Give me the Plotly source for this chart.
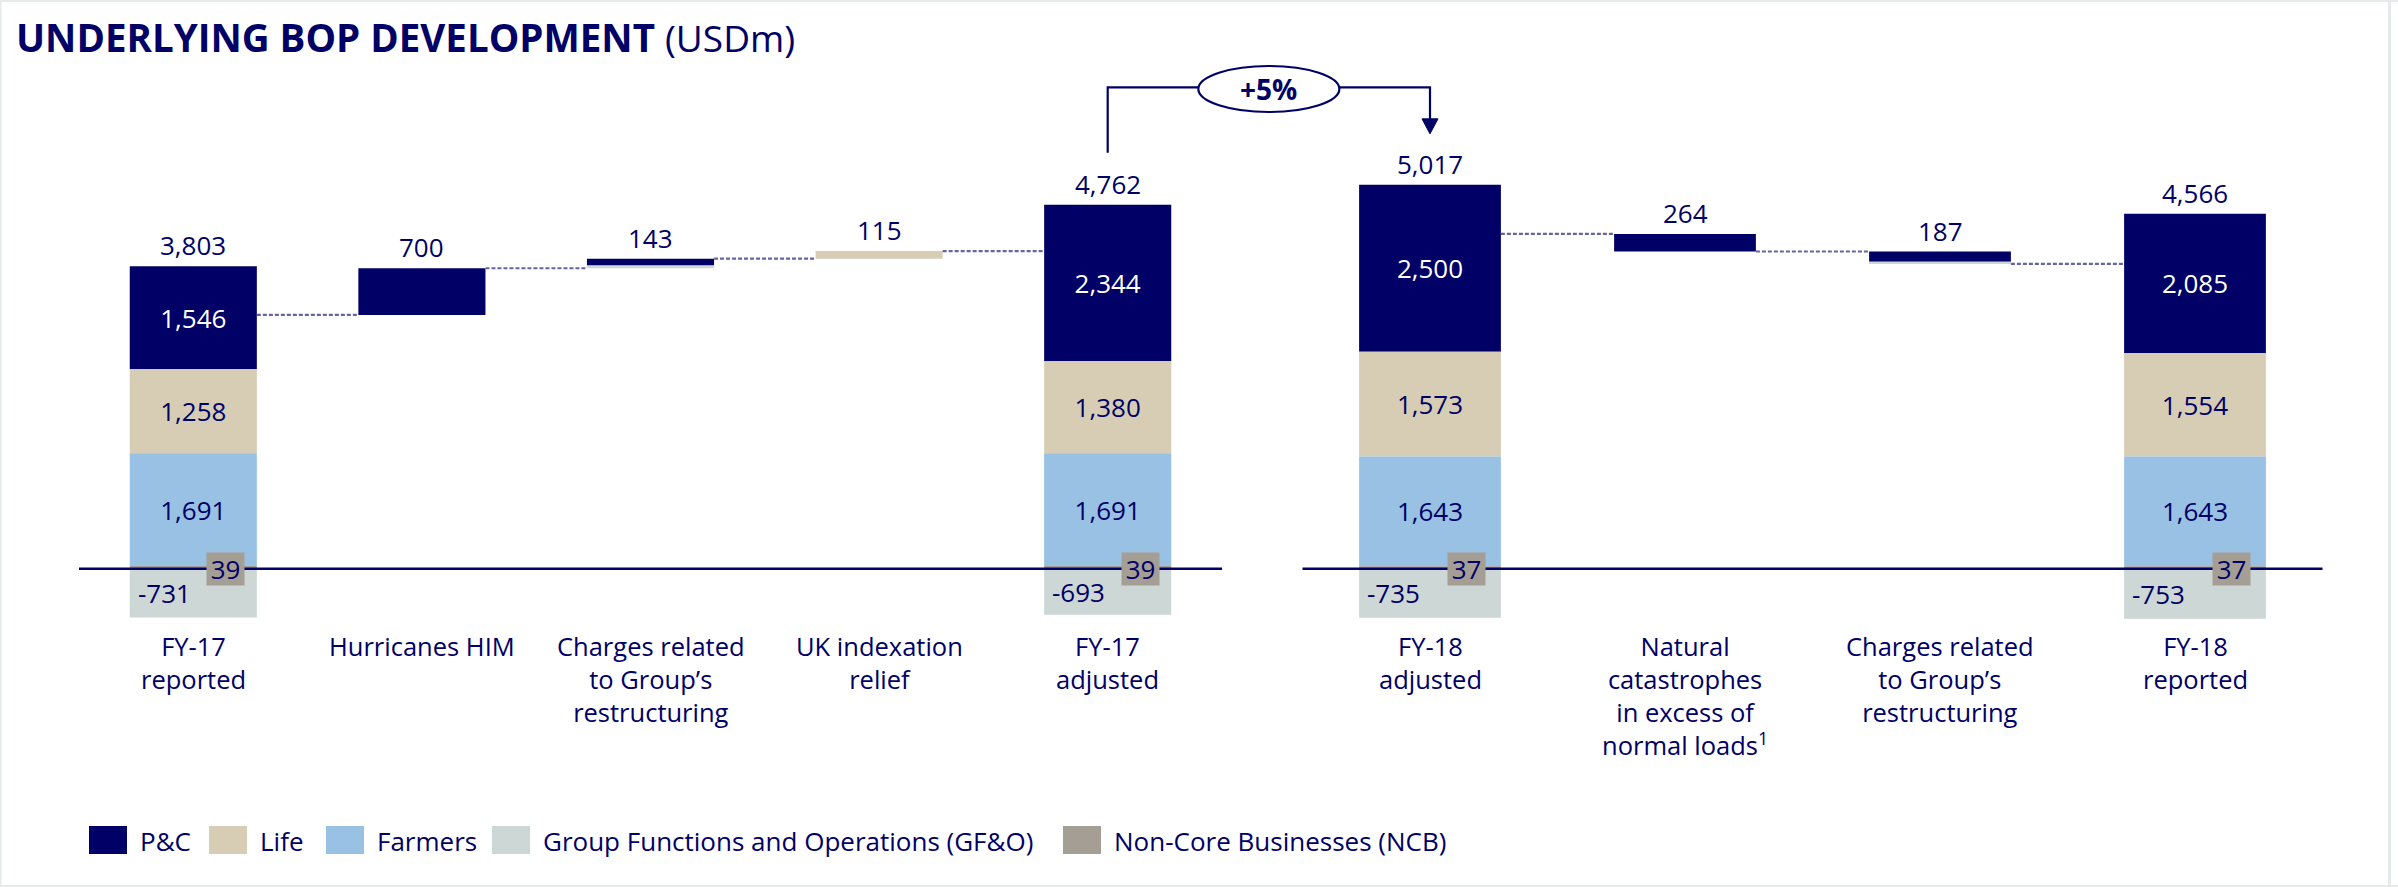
import plotly.graph_objects as go

# ---------------- data ----------------
segment_names = ["P&C", "Life", "Farmers", "Group Functions and Operations (GF&O)", "Non-Core Businesses (NCB)"]

left_categories = ["FY-17<br>reported", "Hurricanes HIM", "Charges related<br>to Group’s<br>restructuring",
                   "UK indexation<br>relief", "FY-17<br>adjusted"]
right_categories = ["FY-18<br>adjusted", "Natural<br>catastrophes<br>in excess of<br>normal loads<sup>1</sup>",
                    "Charges related<br>to Group’s<br>restructuring", "FY-18<br>reported"]

# segment values in order: P&C, Life, Farmers, GF&O, NCB
fy17_reported = [1546, 1258, 1691, -731, 39]
hurricanes_him = [700, 0, 0, 0, 0]
restructuring_fy17 = [103, 0, 0, 40, 0]
uk_indexation = [0, 115, 0, 0, 0]
fy17_adjusted = [2344, 1380, 1691, -693, 39]

fy18_adjusted = [2500, 1573, 1643, -735, 37]
natcat_excess = [-264, 0, 0, 0, 0]
restructuring_fy18 = [-152, 0, 0, -35, 0]
fy18_reported = [2085, 1554, 1643, -753, 37]

left_totals = [3803, 700, 143, 115, 4762]
right_totals = [5017, 264, 187, 4566]

change_label = "+5%"

# ---------------- style ----------------
W, H = 2398, 887
NAVY = "#000066"
FONT = "Open Sans"
seg_colors = ["#000066", "#d6cdb4", "#98c1e3", "#cdd7d5", "#a59e94"]
inside_colors = ["#ffffff", NAVY, NAVY, NAVY, NAVY]
CONNECTOR = "#6464a2"
BAR_W = 0.556
LBL = 26
CAT = 25.5

# y axis geometry (pixels)
Y_TOP_PX, Y_BOT_PX = 100, 622
Y_RANGE = [-800, 7025]
y_domain = [1 - Y_BOT_PX / H, 1 - Y_TOP_PX / H]
x1_domain = [79 / W, 1222 / W]
x2_domain = [1302.5 / W, 2322.5 / W]
x1_range = [-0.5, len(left_categories) - 0.5]
x2_range = [-0.5, len(right_categories) - 0.5]


def ypx(v):
    return Y_BOT_PX - (v - Y_RANGE[0]) / (Y_RANGE[1] - Y_RANGE[0]) * (Y_BOT_PX - Y_TOP_PX)


def xpaper(i, dom, rng):
    return dom[0] + (i - rng[0]) / (rng[1] - rng[0]) * (dom[1] - dom[0])


def build(columns):
    segs = [{"base": [], "h": [], "text": []} for _ in range(5)]
    tops, levels = [], []
    level = 0
    for kind, vals in columns:
        if kind == "total":
            pos = 0
            for s in [4, 2, 1, 0]:
                segs[s]["base"].append(pos)
                segs[s]["h"].append(vals[s])
                pos += vals[s]
            segs[3]["base"].append(0)
            segs[3]["h"].append(vals[3])
            for s in range(5):
                segs[s]["text"].append(f"{vals[s]:,}" if s < 3 else None)
            top = pos
            level = sum(vals)
        else:
            start = level
            end = level + sum(vals)
            pos = min(start, end)
            for s in [3, 4, 2, 1, 0]:
                segs[s]["base"].append(pos)
                segs[s]["h"].append(abs(vals[s]))
                pos += abs(vals[s])
            for s in range(5):
                segs[s]["text"].append(None)
            top = max(start, end)
            level = end
        tops.append(top)
        levels.append(level)
    return segs, tops, levels


left_cols = [("total", fy17_reported), ("step", hurricanes_him), ("step", restructuring_fy17),
             ("step", uk_indexation), ("total", fy17_adjusted)]
right_cols = [("total", fy18_adjusted), ("step", natcat_excess), ("step", restructuring_fy18),
              ("total", fy18_reported)]

fig = go.Figure()
annotations = []
shapes = []

panels = [
    (left_cols, left_categories, left_totals, "x", "y", x1_domain, x1_range),
    (right_cols, right_categories, right_totals, "x2", "y2", x2_domain, x2_range),
]

tops_by_axis = {}
for cols, cats, totals, xa, ya, xdom, xrng in panels:
    segs, tops, levels = build(cols)
    tops_by_axis[xa] = tops
    xs = list(range(len(cols)))
    for s in range(5):
        has_text = any(t for t in segs[s]["text"])
        fig.add_trace(go.Bar(
            x=xs, y=segs[s]["h"], base=segs[s]["base"], width=BAR_W,
            marker=dict(color=seg_colors[s], line=dict(width=0)),
            text=segs[s]["text"] if has_text else None,
            textposition="inside" if has_text else "none", insidetextanchor="middle",
            textangle=0, textfont=dict(family=FONT, size=LBL, color=inside_colors[s]),
            constraintext="none", cliponaxis=False,
            name=segment_names[s], showlegend=False, xaxis=xa, yaxis=ya, hoverinfo="skip",
        ))
    for i in xs:
        annotations.append(dict(x=i, y=tops[i], xref=xa, yref=ya, text=f"{totals[i]:,}",
                                showarrow=False, yanchor="middle", yshift=21,
                                font=dict(family=FONT, size=LBL, color=NAVY)))
        annotations.append(dict(x=i, y=1 - 627 / H, xref=xa, yref="paper", text=cats[i],
                                showarrow=False, yanchor="top", align="center",
                                font=dict(family=FONT, size=CAT, color=NAVY)))
    for i, (kind, vals) in enumerate(cols):
        if kind != "total":
            continue
        annotations.append(dict(x=i - BAR_W / 2, y=vals[3] / 2, xref=xa, yref=ya, text=f"{vals[3]:,}",
                                showarrow=False, xanchor="left", yanchor="middle", xshift=6,
                                font=dict(family=FONT, size=LBL, color=NAVY)))
        annotations.append(dict(x=i + 0.256 * BAR_W, y=0, xref=xa, yref=ya, text=f"{vals[4]:,}",
                                showarrow=False, xanchor="center", yanchor="middle",
                                width=37, height=32, borderpad=0, bgcolor=seg_colors[4],
                                font=dict(family=FONT, size=LBL, color=NAVY)))
    for i in xs[:-1]:
        shapes.append(dict(type="line", xref=xa, yref=ya, x0=i + BAR_W / 2, x1=i + 1 - BAR_W / 2,
                           y0=levels[i], y1=levels[i], layer="above",
                           line=dict(color=CONNECTOR, width=2.2, dash="4px,2px")))
    shapes.append(dict(type="line", xref=xa + " domain", yref=ya, x0=0, x1=1, y0=0, y1=0,
                       layer="above", line=dict(color=NAVY, width=2.5)))

left_tops = tops_by_axis["x"]
right_tops = tops_by_axis["x2"]

# ---------------- +5% bracket ----------------
xl = xpaper(len(left_categories) - 1, x1_domain, x1_range) * W
xr = xpaper(0, x2_domain, x2_range) * W
y_start = ypx(left_tops[-1]) - 52
y_tip = ypx(right_tops[0]) - 51
y_br = 87.3
cx = (xl + xr) / 2
rx, ry = 70.5, 23


def P(xp, yp):
    return f"{xp / W:.6f},{1 - yp / H:.6f}"


shapes.append(dict(type="path", xref="paper", yref="paper",
                   path=f"M{P(xl, y_start)} L{P(xl, y_br)} L{P(cx - rx, y_br)} M{P(cx + rx, y_br)} "
                        f"L{P(xr, y_br)} L{P(xr, y_tip - 14)}",
                   line=dict(color=NAVY, width=2.2)))
shapes.append(dict(type="path", xref="paper", yref="paper",
                   path=f"M{P(xr - 8, y_tip - 15)} L{P(xr + 8, y_tip - 15)} L{P(xr, y_tip)} Z",
                   fillcolor=NAVY, line=dict(color=NAVY, width=1)))
shapes.append(dict(type="circle", xref="paper", yref="paper",
                   x0=(cx - rx) / W, x1=(cx + rx) / W, y0=1 - (y_br + 1.7 + ry) / H, y1=1 - (y_br + 1.7 - ry) / H,
                   fillcolor="white", line=dict(color=NAVY, width=2.2)))
annotations.append(dict(x=cx / W, y=1 - (y_br + 2) / H, xref="paper", yref="paper",
                        text=f"<b>{change_label}</b>", showarrow=False, yanchor="middle",
                        font=dict(family=FONT, size=28, color=NAVY)))

# ---------------- title ----------------
annotations.append(dict(x=14 / W, y=1 - 37 / H, xref="paper", yref="paper", xanchor="left", yanchor="middle",
                        text="<b>UNDERLYING BOP DEVELOPMENT</b> <span style='font-size:37px'>(USDm)</span>",
                        showarrow=False, font=dict(family=FONT, size=38.5, color=NAVY)))

# ---------------- legend ----------------
legend_x = [89, 209, 326, 492, 1063]
for name, col, lx in zip(segment_names, seg_colors, legend_x):
    shapes.append(dict(type="rect", xref="paper", yref="paper", x0=lx / W, x1=(lx + 38) / W,
                       y0=1 - 854 / H, y1=1 - 826 / H, fillcolor=col, line=dict(width=0)))
    annotations.append(dict(x=(lx + 49) / W, y=1 - 841 / H, xref="paper", yref="paper",
                            xanchor="left", yanchor="middle", text=name, showarrow=False,
                            font=dict(family=FONT, size=26, color=NAVY)))

# ---------------- frame ----------------
FRAME = "#e6eaea"
shapes += [
    dict(type="rect", xref="paper", yref="paper", x0=0, x1=1, y0=1 - 2 / H, y1=1, fillcolor=FRAME, line=dict(width=0)),
    dict(type="rect", xref="paper", yref="paper", x0=0, x1=1, y0=0, y1=2 / H, fillcolor=FRAME, line=dict(width=0)),
    dict(type="rect", xref="paper", yref="paper", x0=0, x1=1.5 / W, y0=0, y1=1, fillcolor=FRAME, line=dict(width=0)),
    dict(type="rect", xref="paper", yref="paper", x0=2388 / W, x1=2391 / W, y0=0, y1=1, fillcolor=FRAME, line=dict(width=0)),
]

axis_common = dict(visible=False, showgrid=False, zeroline=False, fixedrange=True)
fig.update_layout(
    width=W, height=H, margin=dict(l=0, r=0, t=0, b=0),
    paper_bgcolor="white", plot_bgcolor="rgba(0,0,0,0)",
    barmode="overlay", showlegend=False,
    xaxis=dict(domain=x1_domain, range=x1_range, anchor="y", **axis_common),
    xaxis2=dict(domain=x2_domain, range=x2_range, anchor="y2", **axis_common),
    yaxis=dict(domain=y_domain, range=Y_RANGE, anchor="x", **axis_common),
    yaxis2=dict(domain=y_domain, range=Y_RANGE, anchor="x2", **axis_common),
    annotations=annotations, shapes=shapes,
    font=dict(family=FONT, color=NAVY),
)

fig.write_html("out.html", config={"displayModeBar": False},
               post_script="document.body.style.margin='0';document.body.style.overflow='hidden';")
